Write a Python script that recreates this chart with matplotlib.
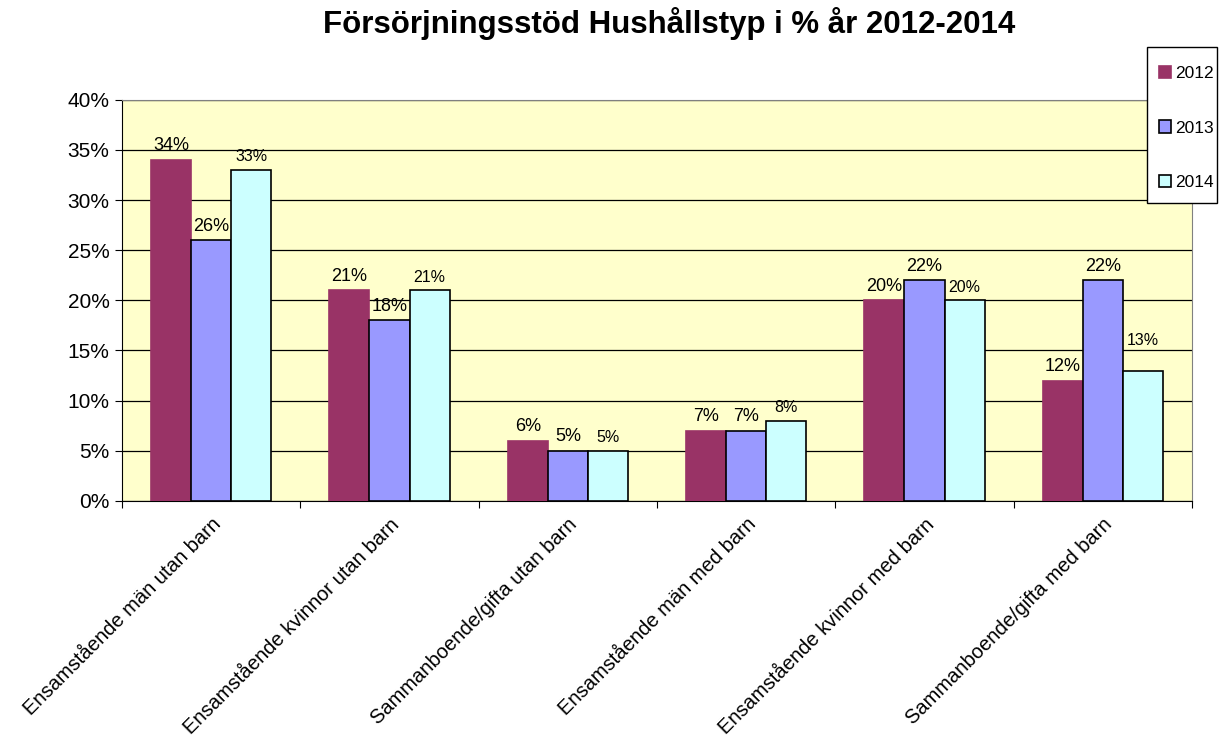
import matplotlib
matplotlib.use("Agg")
import matplotlib.pyplot as plt
from matplotlib.patches import Rectangle
import numpy as np

categories = ["Ensamstående män utan barn", "Ensamstående kvinnor utan barn",
              "Sammanboende/gifta utan barn", "Ensamstående män med barn",
              "Ensamstående kvinnor med barn", "Sammanboende/gifta med barn"]
years = ["2012", "2013", "2014"]
v2012 = [34, 21, 6, 7, 20, 12]
v2013 = [26, 18, 5, 7, 22, 22]
v2014 = [33, 21, 5, 8, 20, 13]
yticks = [0, 5, 10, 15, 20, 25, 30, 35, 40]

plt.rcParams['font.family'] = ['Liberation Sans', 'DejaVu Sans']
fig = plt.figure(figsize=(12.19, 7.42), dpi=100)
ax = fig.add_axes([0.1001, 0.325, 0.8777, 0.5405])
ax.set_facecolor('#FFFFCC')

x = np.arange(len(categories))
w = 0.225
colors = ['#993366', '#9999FF', '#CCFFFF']
label_fs = [13, 13, 11.5]
series = [v2012, v2013, v2014]
# extra label lift (points) for the one label Excel placed higher
extra_lift = {(2, 5): 12}
for i, (vals, c, yr) in enumerate(zip(series, colors, years)):
    ec = c if i == 0 else 'black'
    bars = ax.bar(x + (i - 1) * w, vals, w, color=c, edgecolor=ec, linewidth=1.2,
                  label=yr, zorder=3)
    for j, (b, v) in enumerate(zip(bars, vals)):
        ax.annotate(f"{v}%", (b.get_x() + b.get_width() / 2, v),
                    xytext=(0, 4 + extra_lift.get((i, j), 0)), textcoords='offset points',
                    ha='center', va='bottom', fontsize=label_fs[i], zorder=4)

ax.set_xlim(-0.5, len(categories) - 0.5)
ax.set_ylim(0, 40)
ax.set_yticks(yticks)
ax.set_yticklabels([f"{t}%" for t in yticks], fontsize=15)
ax.yaxis.grid(True, color='black', linewidth=0.9, zorder=0)
ax.set_xticks(np.arange(len(categories) + 1) - 0.5, minor=False)
ax.set_xticklabels([])
ax.set_xticks(x, minor=True)
ax.set_xticklabels(categories, minor=True, rotation=45, ha='right', rotation_mode='anchor', fontsize=14.5)
ax.tick_params(axis='x', which='minor', length=0, pad=10)
ax.tick_params(axis='x', which='major', length=5, direction='out')
ax.tick_params(axis='y', length=5, direction='out', pad=4)
for s in ['left', 'bottom']:
    ax.spines[s].set_color('black')
for s in ['top', 'right']:
    ax.spines[s].set_color('#808080')

fig.suptitle("Försörjningsstöd Hushållstyp i % år 2012-2014", x=0.549, y=0.99,
             fontsize=22.5, fontweight='bold')

# legend frame box
W, H = fig.get_size_inches() * fig.dpi
fig.patches.append(Rectangle((1147 / W, 1 - 203 / H), 70 / W, 156 / H,
                             transform=fig.transFigure, facecolor='white',
                             edgecolor='black', linewidth=1.0, zorder=5))
leg = fig.legend(loc='upper left', bbox_to_anchor=(0.9405, 1 - 54 / H), fontsize=12.5,
                 frameon=False, handlelength=0.7,
                 handleheight=0.7, labelspacing=2.25, handletextpad=0.25,
                 borderpad=0.7, borderaxespad=0)
leg.set_zorder(6)

fig.savefig("out.png", dpi=100)
